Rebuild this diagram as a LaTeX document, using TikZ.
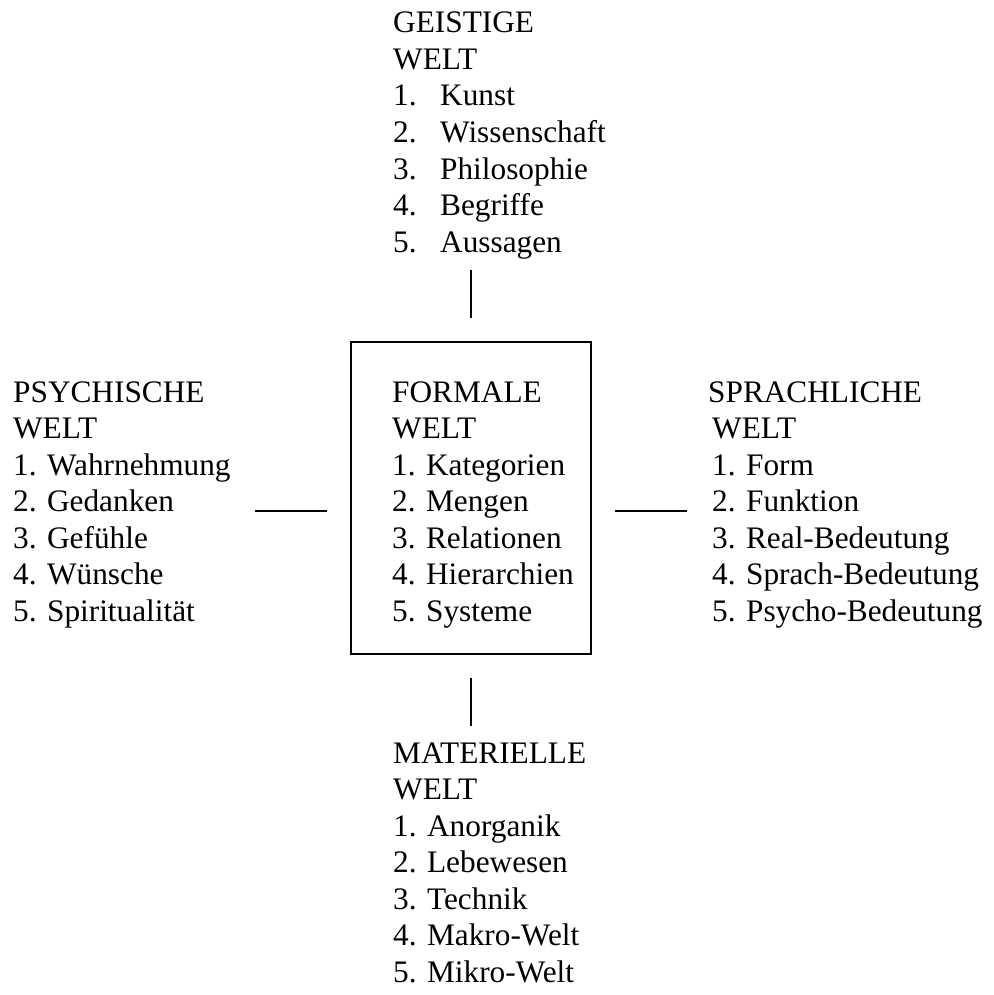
\documentclass[tikz,border=0pt]{standalone}
\usepackage{fontspec}
\setmainfont{Liberation Serif}
\tikzset{
  txt/.style={inner sep=0pt, anchor=base west, font=\fontsize{31.3}{36.5}\selectfont},
  frame/.style={draw, line width=1.6pt, inner sep=0pt, minimum width=240pt, minimum height=312pt},
  link/.style={line width=1.6pt}
}
\newcommand\tabnum[1]{\makebox[47pt][l]{#1}}
\newcommand\wblock[4]{%
  \foreach \t [count=\i from 0] in {#4} {
    \node[txt] (#1-\i) at (#2, #3+\i*36.5) {\t};
  }%
}
\begin{document}
\begin{tikzpicture}[x=1pt, y=-1pt]
\useasboundingbox (0,0) rectangle (993,995);
% central box
\node[frame] (box) at (471,498) {};
% blocks
\wblock{geist}{393}{33}{GEISTIGE, WELT, \tabnum{1.}Kunst, \tabnum{2.}Wissenschaft, \tabnum{3.}Philosophie, \tabnum{4.}Begriffe, \tabnum{5.}Aussagen}
\wblock{formal}{392}{402}{FORMALE, WELT, 1. Kategorien, 2. Mengen, 3. Relationen, 4. Hierarchien, 5. Systeme}
\wblock{psych}{13}{402}{PSYCHISCHE, WELT, 1. Wahrnehmung, 2. Gedanken, 3. Gefühle, 4. Wünsche, 5. Spiritualität}
\node[txt] (sprach-0) at (708,402) {SPRACHLICHE};
\wblock{sprach}{712}{438.5}{WELT, 1. Form, 2. Funktion, 3. Real-Bedeutung, 4. Sprach-Bedeutung, 5. Psycho-Bedeutung}
\wblock{mat}{393}{763}{MATERIELLE, WELT, 1. Anorganik, 2. Lebewesen, 3. Technik, 4. Makro-Welt, 5. Mikro-Welt}
% connector lines
\coordinate (t1) at (471,270); \coordinate (t2) at (471,318);
\coordinate (b1) at (471,678); \coordinate (b2) at (471,726);
\coordinate (l1) at (255,511); \coordinate (l2) at (327,511);
\coordinate (r1) at (615,511); \coordinate (r2) at (687,511);
\draw[link] (t1) -- (t2);
\draw[link] (b1) -- (b2);
\draw[link] (l1) -- (l2);
\draw[link] (r1) -- (r2);
\end{tikzpicture}
\end{document}
